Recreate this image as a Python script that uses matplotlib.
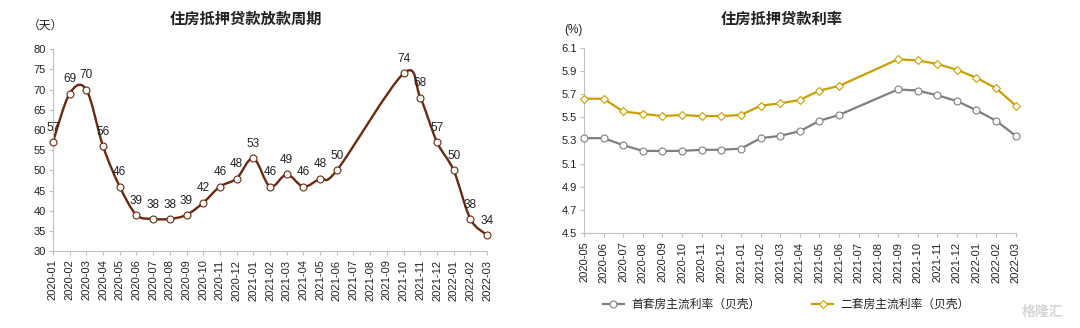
import matplotlib
matplotlib.use('Agg')
import matplotlib.pyplot as plt
import numpy as np
from matplotlib.path import Path
from matplotlib.patches import PathPatch

plt.rcParams['font.family'] = ['Liberation Sans', 'Noto Sans CJK SC', 'DejaVu Sans']

# mortgage lending cycle (days)
cycle_months = [
    '2020-01', '2020-02', '2020-03', '2020-04', '2020-05', '2020-06', '2020-07',
    '2020-08', '2020-09', '2020-10', '2020-11', '2020-12', '2021-01', '2021-02',
    '2021-03', '2021-04', '2021-05', '2021-06', '2021-07', '2021-08', '2021-09',
    '2021-10', '2021-11', '2021-12', '2022-01', '2022-02', '2022-03',
]
cycle_days = [
    57, 69, 70, 56, 46, 39, 38, 38, 39, 42, 46, 48, 53, 46,
    49, 46, 48, 50, np.nan, np.nan, np.nan, 74, 68, 57, 50, 38, 34,
]

# mortgage rates (%)
rate_months = [
    '2020-05', '2020-06', '2020-07', '2020-08', '2020-09', '2020-10', '2020-11',
    '2020-12', '2021-01', '2021-02', '2021-03', '2021-04', '2021-05', '2021-06',
    '2021-07', '2021-08', '2021-09', '2021-10', '2021-11', '2021-12', '2022-01',
    '2022-02', '2022-03',
]
first_home_rate = [
    5.32, 5.32, 5.26, 5.21, 5.21, 5.21, 5.22, 5.22, 5.23, 5.32, 5.34, 5.38,
    5.47, 5.52, np.nan, np.nan, 5.74, 5.73, 5.69, 5.64, 5.56, 5.47, 5.34,
]
second_home_rate = [
    5.66, 5.66, 5.55, 5.53, 5.51, 5.52, 5.51, 5.51, 5.52, 5.60, 5.62, 5.65,
    5.73, 5.77, np.nan, np.nan, 6.00, 5.99, 5.96, 5.91, 5.84, 5.75, 5.60,
]

brown = '#6B2A10'
gold = '#C9A000'
grey = '#7F7F7F'
axis_grey = '#BFBFBF'
text_color = '#222222'


def smooth_path(xs, ys):
    """Excel-style smoothed line: cubic bezier through the known points."""
    pts = [(x, y) for x, y in zip(xs, ys) if not np.isnan(y)]
    verts = [pts[0]]
    codes = [Path.MOVETO]
    n = len(pts)
    for i in range(n - 1):
        p0 = pts[max(i - 1, 0)]
        p1 = pts[i]
        p2 = pts[i + 1]
        p3 = pts[min(i + 2, n - 1)]
        c1 = (p1[0] + (p2[0] - p0[0]) / 6, p1[1] + (p2[1] - p0[1]) / 6)
        c2 = (p2[0] - (p3[0] - p1[0]) / 6, p2[1] - (p3[1] - p1[1]) / 6)
        verts += [c1, c2, p2]
        codes += [Path.CURVE4] * 3
    return Path(verts, codes)


def style_axis(ax, labels):
    for side in ('top', 'right'):
        ax.spines[side].set_visible(False)
    for side in ('left', 'bottom'):
        ax.spines[side].set_color(axis_grey)
        ax.spines[side].set_linewidth(0.8)
    ax.set_xticks(np.arange(len(labels)))
    ax.set_xticklabels(labels, rotation=90)
    ax.set_xlim(0, len(labels) - 1)
    ax.tick_params(axis='both', colors=axis_grey, labelcolor=text_color,
                   labelsize=8, length=3, width=0.8)
    ax.tick_params(axis='x', pad=3)
    ax.tick_params(axis='y', pad=2)


fig = plt.figure(figsize=(10.8, 3.28), dpi=100)

# left: lending cycle
ax1 = fig.add_axes([0.049, 0.234, 0.402, 0.616])
x1 = np.arange(len(cycle_months))
days = np.array(cycle_days, dtype=float)
ax1.add_patch(PathPatch(smooth_path(x1, days), facecolor='none',
                        edgecolor=brown, linewidth=1.7, zorder=2))
ax1.plot(x1, days, linestyle='none', marker='o', markersize=5,
         markerfacecolor='white', markeredgecolor=brown,
         markeredgewidth=0.8, zorder=3, clip_on=False)
for x, y in zip(x1, days):
    if np.isnan(y):
        continue
    ax1.annotate(f'{int(y)}', (x, y), xytext=(0, 6), textcoords='offset points',
                 ha='center', va='bottom', fontsize=8.5, color=text_color)
ax1.set_ylim(30, 80)
ax1.set_yticks(np.arange(30, 81, 5))
style_axis(ax1, cycle_months)

fig.text(0.228, 0.942, '住房抵押贷款放款周期', ha='center', va='center',
         fontsize=11, fontweight='bold', color=text_color)
fig.text(0.042, 0.921, '（天）', ha='center', va='center',
         fontsize=8.5, color=text_color)

# right: mortgage rates
ax2 = fig.add_axes([0.5407, 0.2887, 0.3998, 0.566])
x2 = np.arange(len(rate_months))
first = np.array(first_home_rate, dtype=float)
second = np.array(second_home_rate, dtype=float)
mask = ~np.isnan(first)
ax2.plot(x2[mask], first[mask], color=grey, linewidth=1.6, marker='o',
         markersize=5, markerfacecolor='white', markeredgecolor=grey,
         markeredgewidth=0.8, label='首套房主流利率（贝壳）', zorder=3,
         clip_on=False)
mask = ~np.isnan(second)
ax2.plot(x2[mask], second[mask], color=gold, linewidth=1.6, marker='D',
         markersize=4, markerfacecolor='white', markeredgecolor=gold,
         markeredgewidth=0.8, label='二套房主流利率（贝壳）', zorder=3,
         clip_on=False)
ax2.set_ylim(4.5, 6.1)
ax2.set_yticks(np.arange(4.5, 6.11, 0.2))
ax2.set_yticklabels([f'{v:.1f}' for v in np.arange(4.5, 6.11, 0.2)])
style_axis(ax2, rate_months)

fig.text(0.724, 0.939, '住房抵押贷款利率', ha='center', va='center',
         fontsize=11, fontweight='bold', color=text_color)
fig.text(0.531, 0.909, '(%)', ha='center', va='center',
         fontsize=8.5, color=text_color)

fig.legend(handles=ax2.get_lines(), loc='center', bbox_to_anchor=(0.728, 0.07),
           ncol=2, frameon=False, fontsize=8.5, handlelength=1.8,
           handletextpad=0.6, columnspacing=4.4, labelcolor=text_color)

fig.text(0.985, 0.048, '格隆汇', ha='right', va='center', fontsize=10,
         color='#D5D5D5', fontweight='bold')

fig.savefig('out.png', dpi=100)
